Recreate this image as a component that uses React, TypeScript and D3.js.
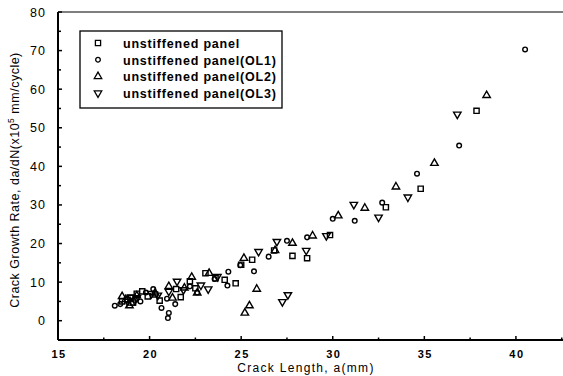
import React from 'react';
import * as d3 from 'd3';

type Pt = [number, number];

const panel: Pt[] = [
  [37.85, 54.4], [34.8, 34.2], [32.9, 29.4], [29.85, 22.2], [28.6, 16.2], [27.8, 16.8],
  [26.8, 18.2], [25.6, 15.8], [25.0, 14.5], [24.7, 9.7], [24.1, 10.6], [23.6, 11.0],
  [23.05, 12.3], [22.2, 10.2], [21.45, 8.2], [21.7, 6.1], [20.55, 5.2], [19.9, 6.3],
  [19.6, 7.6], [19.3, 7.0], [18.8, 5.4], [18.5, 5.0], [20.3, 6.8], [22.5, 8.4],
  [18.95, 5.9], [19.1, 4.7],
];
const panelOL1: Pt[] = [
  [40.5, 70.3], [36.9, 45.4], [34.6, 38.1], [32.7, 30.6], [31.2, 25.9], [30.0, 26.4],
  [28.6, 21.6], [27.5, 20.7], [26.5, 16.6], [25.7, 12.8], [24.95, 14.4], [24.3, 12.7],
  [24.25, 9.1], [23.55, 10.8], [22.6, 7.3], [22.2, 8.9], [21.4, 4.3], [21.05, 2.0],
  [21.0, 0.7], [20.65, 3.3], [20.95, 5.7], [20.2, 8.2], [19.8, 7.3], [19.5, 5.0],
  [18.4, 4.3], [18.1, 3.9], [19.2, 5.4],
];
const panelOL2: Pt[] = [
  [38.4, 58.4], [35.55, 40.8], [33.45, 34.7], [31.75, 29.2], [30.3, 27.2], [28.9, 22.0],
  [27.8, 20.1], [26.85, 18.2], [25.85, 8.2], [25.45, 3.9], [25.2, 2.0], [25.15, 16.2],
  [23.25, 12.3], [22.3, 11.3], [22.6, 7.2], [21.25, 5.9], [21.05, 8.9], [18.9, 3.9],
  [18.5, 6.3], [19.3, 6.5], [20.3, 7.2], [21.9, 8.5], [19.0, 4.6], [18.7, 5.5],
];
const panelOL3: Pt[] = [
  [36.8, 53.5], [34.1, 32.0], [32.5, 26.8], [31.15, 30.1], [29.65, 22.0], [28.55, 18.2],
  [26.95, 20.5], [25.95, 17.9], [27.55, 6.7], [27.25, 4.9], [23.2, 8.2], [22.8, 9.2],
  [21.5, 10.2], [21.85, 8.0], [21.05, 7.6], [20.45, 6.6], [20.1, 7.0], [19.3, 5.9],
  [18.8, 5.0], [23.7, 11.4], [19.0, 6.1],
];

const legendLabels = [
  'unstiffened panel',
  'unstiffened panel(OL1)',
  'unstiffened panel(OL2)',
  'unstiffened panel(OL3)',
];

const xMajor = [15, 20, 25, 30, 35, 40];
const xMinor = [17.5, 22.5, 27.5, 32.5, 37.5, 42.5];
const yMajor = [0, 10, 20, 30, 40, 50, 60, 70, 80];
const yMinor = [-5, 5, 15, 25, 35, 45, 55, 65, 75];

const W = 563;
const H = 376;

const x = d3.scaleLinear().domain([15, 42.57]).range([58, 563]);
const y = d3.scaleLinear().domain([-5, 80]).range([340, 12]);

const sq = d3.symbol(d3.symbolSquare, 27)();
const circ = d3.symbol(d3.symbolCircle, 17)();
const tri = d3.symbol(d3.symbolTriangle, 24)();

const series = [
  { data: panel, path: sq, rot: 0 },
  { data: panelOL1, path: circ, rot: 0 },
  { data: panelOL2, path: tri, rot: 0 },
  { data: panelOL3, path: tri, rot: 180 },
];

const font = 'Arial, "Liberation Sans", Helvetica, sans-serif';

export default function App() {
  return (
    <svg width={W} height={H} style={{ position: 'absolute', left: 0, top: 0, background: '#fff' }}
      fontFamily={font}>
      <rect width={W} height={H} fill="#fff" />

      {/* frame */}
      <line x1={x(15)} x2={x(15)} y1={y(80)} y2={y(-5)} stroke="#000" strokeWidth={2} />
      <line x1={x(15)} x2={W} y1={y(-5)} y2={y(-5)} stroke="#000" strokeWidth={2} />
      <line x1={x(15)} x2={W} y1={y(80)} y2={y(80)} stroke="#000" strokeWidth={1.2} />

      {/* y ticks */}
      {yMajor.map(v => (
        <g key={'ym' + v}>
          <line x1={x(15)} x2={x(15) + 4} y1={y(v)} y2={y(v)} stroke="#000" strokeWidth={1.5} />
          <text x={46} y={y(v) + 4.5} textAnchor="end" fontSize={12.5} letterSpacing={1}>{v}</text>
        </g>
      ))}
      {yMinor.map(v => (
        <line key={'yn' + v} x1={x(15)} x2={x(15) + 3} y1={y(v)} y2={y(v)} stroke="#000" strokeWidth={1.5} />
      ))}

      {/* x ticks */}
      {xMajor.map(v => (
        <g key={'xm' + v}>
          <line x1={x(v)} x2={x(v)} y1={y(-5)} y2={y(-5) - 4} stroke="#000" strokeWidth={1.5} />
          <text x={x(v) + 1} y={358} textAnchor="middle" fontSize={11} fontWeight="bold" letterSpacing={1.5}>{v}</text>
        </g>
      ))}
      {xMinor.map(v => (
        <line key={'xn' + v} x1={x(v)} x2={x(v)} y1={y(-5)} y2={y(-5) - 2.5} stroke="#000" strokeWidth={1.5} />
      ))}

      {/* axis titles */}
      <text x={306} y={372} textAnchor="middle" fontSize={12} letterSpacing={1.3}>Crack Length, a(mm)</text>
      <text transform="translate(19,180) rotate(-90)" textAnchor="middle" fontSize={12.5} letterSpacing={0.5}>
        Crack Growth Rate, da/dN(x10<tspan dy={-5} fontSize={8.5}>5</tspan><tspan dy={5}> mm/cycle)</tspan>
      </text>

      {/* points */}
      {series.map((s, i) => (
        <g key={'s' + i}>
          {s.data.map((d, j) => (
            <path key={j} d={s.path} transform={`translate(${x(d[0])},${y(d[1])}) rotate(${s.rot})`}
              fill="none" stroke="#000" strokeWidth={1.4} />
          ))}
        </g>
      ))}

      {/* legend */}
      <rect x={80} y={31} width={202} height={77} fill="#fff" stroke="#000" strokeWidth={1.3} />
      {legendLabels.map((l, i) => {
        const ly = 44 + i * 16.7;
        return (
          <g key={'l' + i}>
            <path d={series[i].path} transform={`translate(98,${ly - 1}) rotate(${series[i].rot})`}
              fill="none" stroke="#000" strokeWidth={1.3} />
            <text x={123} y={ly + 4} fontSize={12.5} fontWeight="bold" letterSpacing={0.8}>{l}</text>
          </g>
        );
      })}
    </svg>
  );
}
